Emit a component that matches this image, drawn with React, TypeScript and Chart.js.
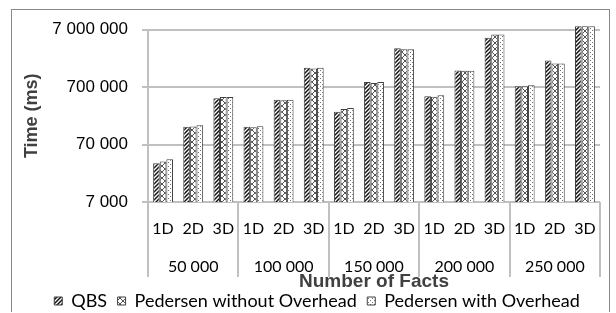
import React, { useEffect, useRef } from 'react';
import { Chart, registerables } from 'chart.js';

Chart.register(...registerables);

const groupLabels = ['50 000', '100 000', '150 000', '200 000', '250 000'];
const dimLabels = ['1D', '2D', '3D'];
const seriesNames = ['QBS', 'Pedersen without Overhead', 'Pedersen with Overhead'];
const qbsValues = [33100, 142000, 445000, 142000, 422000, 1506000, 260000, 859000, 3320000, 482000, 1352000, 5030000, 720000, 2020000, 8000000];
const pedWithoutValues = [35300, 144000, 470000, 139000, 410000, 1467000, 290000, 824000, 3190000, 476000, 1336000, 5740000, 720000, 1790000, 8000000];
const pedWithValues = [38900, 152000, 470000, 146000, 422000, 1506000, 302000, 859000, 3190000, 501000, 1336000, 5740000, 750000, 1790000, 8000000];
const yTickValues = [7000, 70000, 700000, 7000000];

function fmt(v: number): string {
  return String(Math.round(v)).replace(/\B(?=(\d{3})+(?!\d))/g, ' ');
}

function makePattern(kind: string): CanvasPattern | string {
  const c = document.createElement('canvas');
  const ctx = c.getContext('2d');
  if (!ctx) return '#999';
  if (kind === 'hatch') {
    c.width = 4; c.height = 4;
    ctx.fillStyle = '#ffffff'; ctx.fillRect(0, 0, 4, 4);
    ctx.strokeStyle = '#111111'; ctx.lineWidth = 1.5;
    ctx.beginPath();
    ctx.moveTo(0, 4); ctx.lineTo(4, 0);
    ctx.moveTo(-1, 1); ctx.lineTo(1, -1);
    ctx.moveTo(3, 5); ctx.lineTo(5, 3);
    ctx.stroke();
  } else if (kind === 'cross') {
    c.width = 6; c.height = 6;
    ctx.fillStyle = '#ffffff'; ctx.fillRect(0, 0, 6, 6);
    ctx.strokeStyle = '#555555'; ctx.lineWidth = 1;
    ctx.beginPath();
    ctx.moveTo(0, 0); ctx.lineTo(6, 6);
    ctx.moveTo(0, 6); ctx.lineTo(6, 0);
    ctx.stroke();
  } else {
    c.width = 4; c.height = 4;
    ctx.fillStyle = '#ffffff'; ctx.fillRect(0, 0, 4, 4);
    ctx.fillStyle = '#707070';
    ctx.fillRect(0, 0, 1, 1);
    ctx.fillRect(2, 2, 1, 1);
  }
  return ctx.createPattern(c, 'repeat') || '#999';
}

export default function App() {
  const ref = useRef<HTMLCanvasElement>(null);

  useEffect(() => {
    if (!ref.current) return;
    const labels = groupLabels.flatMap((g) =>
      dimLabels.map((d, i) => (i === 1 ? [d, '', g] : d))
    );
    const patterns = [makePattern('hatch'), makePattern('cross'), makePattern('dots')];
    const values = [qbsValues, pedWithoutValues, pedWithValues];
    const gridGray = '#c0c0c0';

    const chart = new Chart(ref.current, {
      type: 'bar',
      data: {
        labels,
        datasets: seriesNames.map((name, i) => ({
          label: name,
          data: values[i],
          backgroundColor: patterns[i] as any,
          borderColor: '#404040',
          borderWidth: 1,
          categoryPercentage: 0.66,
          barPercentage: 1,
          clip: false as any,
        })),
      },
      options: {
        animation: false,
        responsive: false,
        layout: { padding: { top: 19.5, left: 22, right: 9, bottom: -8 } },
        plugins: {
          legend: {
            position: 'bottom',
            labels: {
              boxWidth: 8,
              boxHeight: 8,
              padding: 10.5,
              color: '#000',
              font: { family: 'Lato', size: 18 },
            },
          },
          tooltip: { enabled: false },
        },
        scales: {
          x: {
            offset: true,
            grid: {
              offset: true,
              drawOnChartArea: false,
              drawTicks: true,
              tickLength: 75,
              lineWidth: 2,
              color: (ctx: any) =>
                ctx.index === undefined || ctx.index % 3 === 0 ? gridGray : 'rgba(0,0,0,0)',
            },
            border: { display: false },
            ticks: {
              autoSkip: false,
              maxRotation: 0,
              minRotation: 0,
              padding: -57.5,
              color: '#000',
              font: { family: 'Lato', size: 16, lineHeight: '19px' },
            },
            title: {
              display: true,
              text: 'Number of Facts',
              color: '#404040',
              font: { family: 'Liberation Sans', size: 19, weight: 'bold', lineHeight: 1 },
              padding: { top: 0, bottom: -10 },
            },
            afterFit: (s: any) => { s.height = 79.5; },
          },
          y: {
            type: 'logarithmic',
            min: 7000,
            max: 7000000,
            afterBuildTicks: (s: any) => { s.ticks = yTickValues.map((v) => ({ value: v })); },
            grid: { color: gridGray, lineWidth: 2, tickLength: 6 },
            border: { display: true, color: gridGray, width: 2 },
            ticks: {
              padding: 14,
              color: '#000',
              font: { family: 'Liberation Sans', size: 17, lineHeight: '8px' },
              callback: (v: any) => fmt(Number(v)),
            },
            title: {
              display: true,
              text: 'Time (ms)',
              color: '#404040',
              font: { family: 'Liberation Sans', size: 18, weight: 'bold', lineHeight: 1 },
              padding: { top: -11, bottom: 0 },
            },
            afterFit: (s: any) => { s.width = 114; },
          },
        },
      } as any,
    });
    return () => chart.destroy();
  }, []);

  return (
    <div
      style={{
        position: 'fixed',
        left: 11,
        top: 9,
        width: 597,
        height: 302,
        borderTop: '1px solid #888',
        borderLeft: '1px solid #888',
        borderRight: '1px solid #888',
        background: '#fff',
      }}
    >
      <canvas ref={ref} width={597} height={302} style={{ display: 'block' }} />
    </div>
  );
}
